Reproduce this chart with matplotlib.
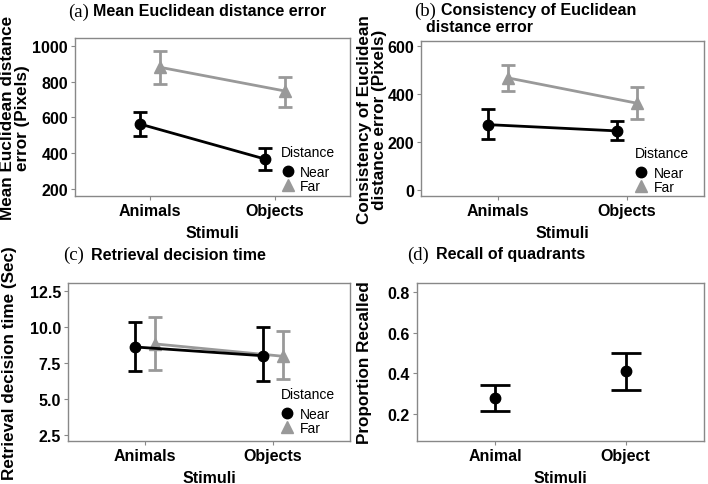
import matplotlib.pyplot as plt
from matplotlib.lines import Line2D

# values
stimuli = ['Animals', 'Objects']

a_near = [563, 367]
a_near_lo = [498, 307]
a_near_hi = [633, 428]
a_far = [881, 748]
a_far_lo = [785, 659]
a_far_hi = [970, 829]

b_near = [272, 246]
b_near_lo = [214, 207]
b_near_hi = [336, 286]
b_far = [466, 361]
b_far_lo = [410, 296]
b_far_hi = [520, 428]

c_near = [8.61, 8.0]
c_near_lo = [6.92, 6.23]
c_near_hi = [10.35, 10.0]
c_far = [8.82, 7.96]
c_far_lo = [7.04, 6.39]
c_far_hi = [10.7, 9.7]

d_stimuli = ['Animal', 'Object']
d_mean = [0.278, 0.411]
d_lo = [0.215, 0.318]
d_hi = [0.342, 0.501]

W, H = 708, 485
GREY = '#999999'
SANS = 'Liberation Sans'
SERIF = 'Liberation Serif'

fig = plt.figure(figsize=(W / 100, H / 100), dpi=100)


def add_ax(left, top, right, bottom):
    return fig.add_axes([left / W, 1 - bottom / H, (right - left) / W, (bottom - top) / H])


def style(ax, ylabel, ticks, ylim, ylab_x):
    ax.set_xlim(0.4, 2.6)
    ax.set_ylim(*ylim)
    ax.set_yticks(ticks)
    for s in ax.spines.values():
        s.set_color('#888888')
        s.set_linewidth(1.0)
    ax.tick_params(colors='#888888', length=3, width=0.8, labelcolor='black', pad=2)
    for lab in ax.get_xticklabels() + ax.get_yticklabels():
        lab.set_fontfamily(SANS)
        lab.set_fontweight('bold')
        lab.set_fontsize(11.5)
    ax.set_xlabel('Stimuli', fontfamily=SANS, fontweight='bold', fontsize=11.5, labelpad=5)
    ax.set_ylabel(ylabel, fontfamily=SANS, fontweight='bold', fontsize=12.3, linespacing=0.95)
    ax.yaxis.label.set_verticalalignment('center')
    # put the y label centre at a pixel column of the figure
    pos = ax.get_position()
    ax.yaxis.set_label_coords((ylab_x / W - pos.x0) / pos.width, 0.5)


def draw_pair(ax, near, nlo, nhi, far, flo, fhi, dodge=0.08, cap=4.7):
    xn = [1 - dodge, 2 - dodge]
    xf = [1 + dodge, 2 + dodge]
    ax.errorbar(xf, far, yerr=[[m - l for m, l in zip(far, flo)], [h - m for m, h in zip(far, fhi)]],
                color=GREY, lw=2, capsize=cap, capthick=2, marker='^', ms=9, zorder=2)
    ax.errorbar(xn, near, yerr=[[m - l for m, l in zip(near, nlo)], [h - m for m, h in zip(near, nhi)]],
                color='black', lw=2, capsize=cap, capthick=2, marker='o', ms=7.5, zorder=3)
    ax.set_xticks([1, 2])
    ax.set_xticklabels(stimuli)


def legend(ax, x, y):
    handles = [Line2D([], [], color='black', marker='o', ms=7.5, ls='none'),
               Line2D([], [], color=GREY, marker='^', ms=8.5, ls='none')]
    lg = ax.legend(handles, ['Near', 'Far'], title='Distance', frameon=False,
                   loc='upper left', bbox_to_anchor=(x, y), handlelength=0.9,
                   handletextpad=0.45, labelspacing=0.02, borderpad=0, borderaxespad=0,
                   prop={'family': SANS, 'size': 10})
    lg.get_title().set_fontfamily(SANS)
    lg.get_title().set_fontsize(10)
    lg._legend_box.align = 'left'
    lg._legend_box.sep = 4


def title(xl, xt, y, letter, text):
    fig.text(xl / W, 1 - y / H, letter, fontfamily=SERIF, fontsize=13.5, va='center')
    fig.text(xt / W, 1 - y / H, text, fontfamily=SANS, fontweight='bold', fontsize=11.5,
             va='center')


# (a)
ax = add_ax(75, 39, 350, 197)
draw_pair(ax, a_near, a_near_lo, a_near_hi, a_far, a_far_lo, a_far_hi)
style(ax, 'Mean Euclidean distance\nerror (Pixels)', [200, 400, 600, 800, 1000], (160, 1045), 15)
legend(ax, 0.75, 0.32)
title(68, 93, 12, '(a)', 'Mean Euclidean distance error')

# (b)
ax = add_ax(421, 42, 704, 197)
draw_pair(ax, b_near, b_near_lo, b_near_hi, b_far, b_far_lo, b_far_hi)
style(ax, 'Consistency of Euclidean\ndistance error (Pixels)', [0, 200, 400, 600], (-25, 620), 372)
legend(ax, 0.755, 0.32)
title(414, 441, 11, '(b)', 'Consistency of Euclidean')
fig.text(426 / W, 1 - 28 / H, 'distance error', fontfamily=SANS, fontweight='bold',
         fontsize=11.5, va='center')

# (c)
ax = add_ax(68, 284, 350, 442)
draw_pair(ax, c_near, c_near_lo, c_near_hi, c_far, c_far_lo, c_far_hi)
style(ax, 'Retrieval decision time (Sec)', [2.5, 5.0, 7.5, 10.0, 12.5], (2.08, 13.05), 10)
legend(ax, 0.755, 0.34)
title(63, 91, 255, '(c)', 'Retrieval decision time')

# (d)
ax = add_ax(417, 284, 704, 442)
ax.errorbar([1, 2], d_mean, yerr=[[m - l for m, l in zip(d_mean, d_lo)], [h - m for m, h in zip(d_mean, d_hi)]],
            color='black', lw=2, capsize=10.5, capthick=2, marker='o', ms=7.5, ls='none')
ax.set_xticks([1, 2])
ax.set_xticklabels(d_stimuli)
style(ax, 'Proportion Recalled', [0.2, 0.4, 0.6, 0.8], (0.068, 0.844), 364)
title(407, 436, 255, '(d)', 'Recall of quadrants')

fig.savefig('out.png', dpi=100)
